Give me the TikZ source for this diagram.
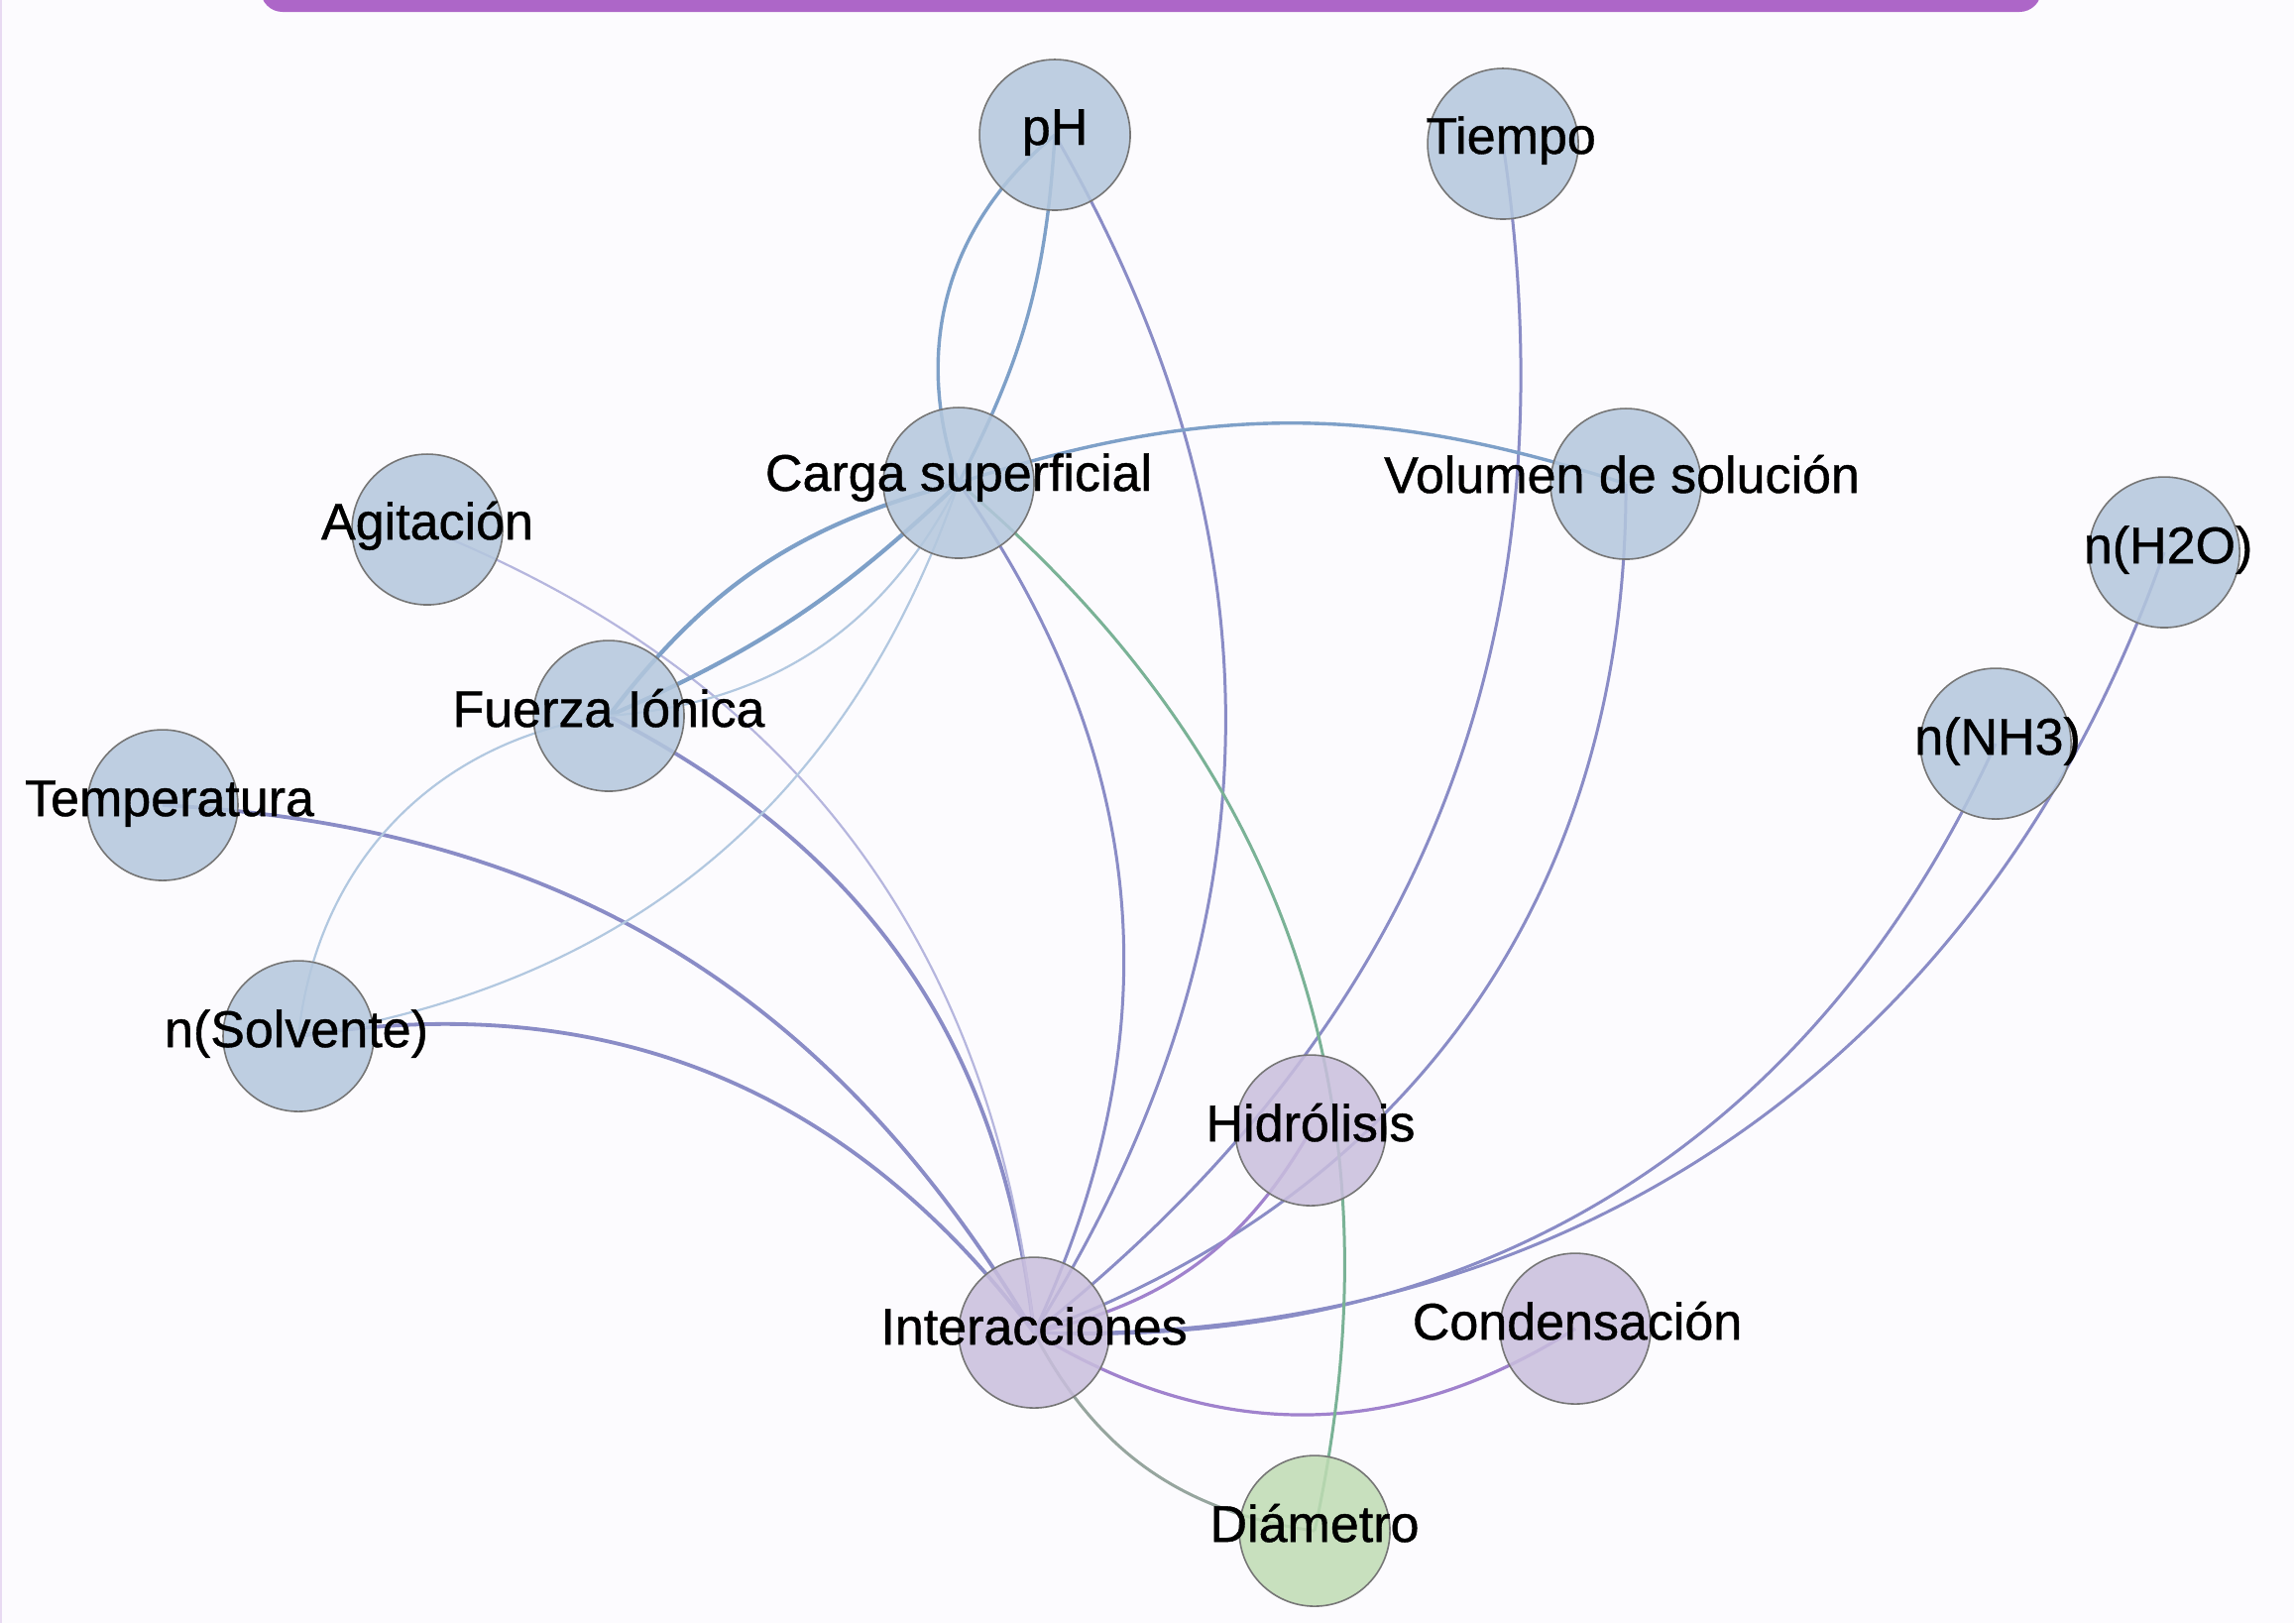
\documentclass[tikz,border=0pt]{standalone}
\usepackage{fontspec}
\setmainfont{Liberation Sans}
\newfontfamily\lblfam[FakeBold=0.8]{Liberation Sans}
\definecolor{bgc}{RGB}{252,251,254}
\definecolor{barc}{RGB}{173,102,200}
\definecolor{sidec}{RGB}{232,218,242}
\definecolor{nblue}{RGB}{180,199,221}
\definecolor{npurp}{RGB}{201,190,221}
\definecolor{ngreen}{RGB}{191,220,179}
\definecolor{ndraw}{RGB}{118,118,118}
\definecolor{cblue}{RGB}{126,160,200}
\definecolor{cpb}{RGB}{138,140,198}
\definecolor{cgreen}{RGB}{122,178,150}
\definecolor{cpurp}{RGB}{160,130,205}
\definecolor{clblue}{RGB}{178,200,224}
\definecolor{clpb}{RGB}{182,182,222}
\definecolor{cgrey}{RGB}{150,165,158}
\pgfdeclarelayer{bglayer}
\pgfdeclarelayer{edgelayer}
\pgfsetlayers{bglayer,edgelayer,main}
% 1 reference pixel = 0.05pt
\newcommand\lblfont{\lblfam\fontsize{2.6}{3}\selectfont}
\tikzset{
  nd/.style={circle, minimum size=7.6pt, inner sep=0pt, draw=ndraw, line width=0.08pt, fill opacity=0.85},
  bnd/.style={nd, fill=nblue},
  pnd/.style={nd, fill=npurp},
  gnd/.style={nd, fill=ngreen},
  lbl/.style={font=\lblfont, text=black, inner sep=0pt, anchor=base},
  eblue/.style={draw=cblue, line width=0.17pt},
  ebluethick/.style={draw=cblue, line width=0.21pt},
  epb/.style={draw=cpb, line width=0.15pt},
  epbthick/.style={draw=cpb, line width=0.19pt},
  egreen/.style={draw=cgreen, line width=0.15pt},
  epurp/.style={draw=cpurp, line width=0.16pt},
  elblue/.style={draw=clblue, line width=0.11pt},
  elpb/.style={draw=clpb, line width=0.11pt},
  egrey/.style={draw=cgrey, line width=0.15pt}
}
\begin{document}
\begin{tikzpicture}[x=0.05pt,y=-0.05pt]
\useasboundingbox (0,0) rectangle (2314,1637);
\begin{pgfonlayer}{bglayer}
  \fill[bgc] (0,0) rectangle (2314,1637);
  \begin{scope}
    \clip (0,0) rectangle (2314,1637);
    \fill[barc, rounded corners=1.1pt] (263,-40) rectangle (2059,12);
  \end{scope}
  \draw[sidec, line width=0.1pt] (1,0) -- (1,1637);
\end{pgfonlayer}

% nodes
\node[bnd] (ph) at (1064,136) {};
\node[bnd] (tiempo) at (1516,145) {};
\node[bnd] (carga) at (967,487) {};
\node[bnd] (vol) at (1640,488) {};
\node[bnd] (agit) at (431,534) {};
\node[bnd] (nh2o) at (2183,557) {};
\node[bnd] (fi) at (614,722) {};
\node[bnd] (nnh3) at (2013,750) {};
\node[bnd] (temp) at (164,812) {};
\node[bnd] (nsolv) at (301,1045) {};
\node[pnd] (hidr) at (1322,1140) {};
\node[pnd] (inter) at (1043,1344) {};
\node[pnd] (cond) at (1589,1340) {};
\node[gnd] (diam) at (1326,1544) {};

% labels
\node[lbl] (ph-t) at ([yshift=-0.5pt]ph.center) {pH};
\node[lbl] (tiempo-t) at ([xshift=0.4pt,yshift=-0.5pt]tiempo.center) {Tiempo};
\node[lbl] (carga-t) at ([yshift=-0.4pt]carga.center) {Carga superficial};
\node[lbl] (vol-t) at ([xshift=-0.2pt,yshift=-0.45pt]vol.center) {Volumen de solución};
\node[lbl] (agit-t) at ([yshift=-0.5pt]agit.center) {Agitación};
\node[lbl] (nh2o-t) at ([xshift=0.2pt,yshift=-0.55pt]nh2o.center) {n(H2O)};
\node[lbl] (fi-t) at ([yshift=-0.55pt]fi.center) {Fuerza Iónica};
\node[lbl] (nnh3-t) at ([xshift=0.1pt,yshift=-0.55pt]nnh3.center) {n(NH3)};
\node[lbl] (temp-t) at ([xshift=0.35pt,yshift=-0.55pt]temp.center) {Temperatura};
\node[lbl] (nsolv-t) at ([xshift=-0.1pt,yshift=-0.55pt]nsolv.center) {n(Solvente)};
\node[lbl] (hidr-t) at ([yshift=-0.55pt]hidr.center) {Hidrólisis};
\node[lbl] (inter-t) at ([yshift=-0.6pt]inter.center) {Interacciones};
\node[lbl] (cond-t) at ([xshift=0.1pt,yshift=-0.55pt]cond.center) {Condensación};
\node[lbl] (diam-t) at ([yshift=-0.55pt]diam.center) {Diámetro};

% edges
\begin{pgfonlayer}{edgelayer}
  \draw[eblue] (ph.center) to[bend right=35] (carga.center);
  \draw[eblue] (ph.center) to[bend left=12] (carga.center);
  \draw[epb] (ph.center) to[bend left=31] (inter.center);
  \draw[epb] (tiempo.center) to[bend left=30] (inter.center);
  \draw[epb] (vol.center) to[bend left=35] (inter.center);
  \draw[epurp] (hidr.center) to[bend left=24] (inter.center);
  \draw[epb] (nh2o.center) to[bend left=36] (inter.center);
  \draw[epb] (nnh3.center) to[bend left=34] (inter.center);
  \draw[epurp] (cond.center) to[bend left=32] (inter.center);
  \draw[egrey] (diam.center) to[bend left=27] (inter.center);
  \draw[egreen] (carga.center) to[bend left=31] (diam.center);
  \draw[epb] (carga.center) to[bend left=30] (inter.center);
  \draw[epbthick] (fi.center) to[bend left=28] (inter.center);
  \draw[epbthick] (temp.center) to[bend left=28] (inter.center);
  \draw[epbthick] (nsolv.center) to[bend left=31] (inter.center);
  \draw[elpb] (agit.center) to[bend left=31] (inter.center);
  \draw[eblue] (carga.center) to[bend left=18] (vol.center);
  \draw[ebluethick] (fi.center) to[bend left=19] (carga.center);
  \draw[ebluethick] (carga.center) to[bend left=10] (fi.center);
  \draw[elblue] (carga.center) to[bend left=29] (fi.center);
  \draw[elblue] (nsolv.center) to[bend left=38] (fi.center);
  \draw[elblue] (carga.center) to[bend left=31] (nsolv.center);
\end{pgfonlayer}
\end{tikzpicture}
\end{document}
